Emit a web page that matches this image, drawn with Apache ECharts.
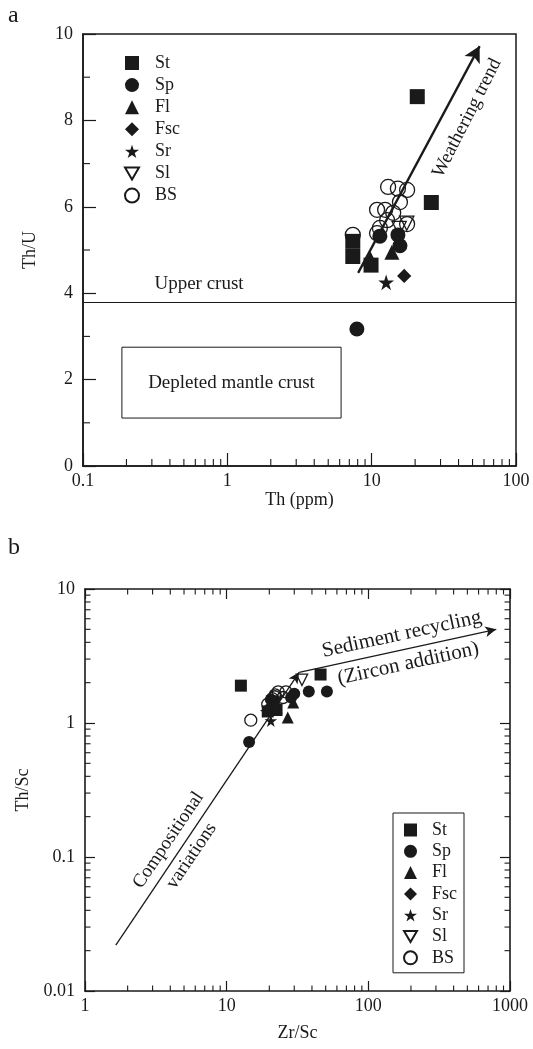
<!DOCTYPE html>
<html>
<head>
<meta charset="utf-8">
<script src="https://cdn.jsdelivr.net/npm/echarts@6/dist/echarts.min.js"></script>
<style>
  html, body { margin: 0; padding: 0; background: #fff; }
  #main { width: 533px; height: 1049px; }
</style>
</head>
<body>
<div id="main"></div>
<script>
var FONT = 'Liberation Serif';
var INK = '#1a1a1a';

var groups = ['St', 'Sp', 'Fl', 'Fsc', 'Sr', 'Sl', 'BS'];

// panel a : Th (ppm) vs Th/U
var aSt  = [[7.4, 5.2], [7.4, 4.85], [9.9, 4.65], [20.7, 8.55], [25.9, 6.1]];
var aSp  = [[7.9, 3.17], [11.4, 5.32], [15.7, 5.1], [15.2, 5.35]];
var aFl  = [[9.8, 4.8], [13.8, 4.95]];
var aFsc = [[16.8, 4.4]];
var aSr  = [[12.6, 4.25]];
var aSl  = [[17.5, 5.62], [15.5, 5.5]];
var aBS  = [[13.0, 6.46], [15.2, 6.42], [17.6, 6.39], [15.7, 6.11], [10.9, 5.93], [12.4, 5.93],
            [14.1, 5.86], [12.8, 5.69], [11.4, 5.51], [10.9, 5.39], [17.6, 5.6], [7.4, 5.35]];
var upperCrust = 3.8;
var depletedBox = [[0.186, 2.75], [6.14, 1.11]];
var weatheringTrend = [[8.06, 4.47], [56, 9.72]];

// panel b : Zr/Sc vs Th/Sc
var bSt  = [[12.6, 1.9], [46, 2.3], [19.5, 1.22], [22.5, 1.25], [21.5, 1.45]];
var bSp  = [[14.4, 0.72], [38, 1.72], [51, 1.72], [30, 1.65], [28.5, 1.55], [20.5, 1.5], [21.5, 1.35]];
var bFl  = [[27, 1.1], [29.5, 1.42], [22.5, 1.3]];
var bFsc = [[20, 1.32]];
var bSr  = [[20.5, 1.04], [19, 1.22]];
var bSl  = [[34, 2.1]];
var bBS  = [[14.8, 1.05], [19.5, 1.38], [21, 1.52], [22, 1.62], [23.1, 1.71], [26.2, 1.71], [21.9, 1.57], [25, 1.55]];
var compositionalLine = [[1.65, 0.022], [32.5, 2.39]];
var recyclingLine = [[32.5, 2.39], [800, 5.0]];

// tick positions
var minorFactors = [2, 3, 4, 5, 6, 7, 8, 9];
var aXDecades = [0.1, 1, 10];
var aYMinor = [1, 3, 5, 7, 9];
var bXDecades = [1, 10, 100];
var bYDecades = [0.01, 0.1, 1];

var STAR = 'path://M50,2 L61.8,38.2 L99.5,38.2 L69,60.5 L80.6,96.4 L50,74.3 L19.4,96.4 L31,60.5 L0.5,38.2 L38.2,38.2 Z';
var DOWN_TRI = 'path://M0,0 L20,0 L10,17.3 Z';

var looks = {
    St:  { symbol: 'rect', k: 1, open: false },
    Sp:  { symbol: 'circle', k: 1, open: false },
    Fl:  { symbol: 'triangle', k: 1, open: false },
    Fsc: { symbol: 'diamond', k: 0.95, open: false },
    Sr:  { symbol: STAR, k: 1.05, open: false },
    Sl:  { symbol: DOWN_TRI, k: 0.95, open: true },
    BS:  { symbol: 'circle', k: 1, open: true }
};

function minors(decades) {
    var out = [];
    decades.forEach(function (d) {
        minorFactors.forEach(function (f) { out.push(+(d * f).toPrecision(4)); });
    });
    return out;
}

function scatter(name, data, gi, size) {
    var l = looks[name];
    return {
        type: 'scatter', name: name, xAxisIndex: gi, yAxisIndex: gi,
        data: data, symbol: l.symbol, symbolSize: size * l.k,
        itemStyle: {
            color: l.open ? 'rgba(255,255,255,0)' : INK,
            borderColor: INK, borderWidth: l.open ? 1.3 : 0, opacity: 1
        },
        emphasis: { disabled: true }
    };
}

// minor ticks drawn through the axes' own scales
function tickSeries(gi, xTicks, yTicks, xr, yr, len, mirror) {
    var items = [];
    xTicks.forEach(function (v) {
        items.push([v, yr[0], 0, -1]);
        if (mirror) items.push([v, yr[1], 0, 1]);
    });
    yTicks.forEach(function (v) {
        items.push([xr[0], v, 1, 0]);
        if (mirror) items.push([xr[1], v, -1, 0]);
    });
    return {
        type: 'custom', xAxisIndex: gi, yAxisIndex: gi, silent: true, data: items, z: 5,
        renderItem: function (params, api) {
            var p = api.coord([api.value(0), api.value(1)]);
            var dx = api.value(2), dy = api.value(3);
            return {
                type: 'line',
                shape: { x1: p[0], y1: p[1], x2: p[0] + dx * len, y2: p[1] + dy * len },
                style: { stroke: INK, lineWidth: 1.1 }
            };
        }
    };
}

function numFmt(v) { return String(+(+v).toPrecision(6)); }

var labelStyle = { color: INK, fontFamily: FONT, fontSize: 18 };
var nameStyle = { color: INK, fontFamily: FONT, fontSize: 18 };
var lineStyle = { color: INK, width: 1.6 };

var chart = echarts.init(document.getElementById('main'));

var series = [];
var aData = { St: aSt, Sp: aSp, Fl: aFl, Fsc: aFsc, Sr: aSr, Sl: aSl, BS: aBS };
var bData = { St: bSt, Sp: bSp, Fl: bFl, Fsc: bFsc, Sr: bSr, Sl: bSl, BS: bBS };
groups.forEach(function (g) { series.push(scatter(g, aData[g], 0, 15)); });
groups.forEach(function (g) { series.push(scatter(g, bData[g], 1, 12)); });

// panel a annotations
series[0].markLine = {
    silent: true, symbol: ['none', 'none'], animation: false,
    label: { show: false },
    lineStyle: { color: INK, width: 1.1, type: 'solid' },
    data: [
        { yAxis: upperCrust },
        [{ coord: weatheringTrend[0], symbol: 'none', lineStyle: { width: 2.3 } },
         { coord: weatheringTrend[1], symbol: 'arrow', symbolSize: [13, 16] }]
    ]
};
series[0].markArea = {
    silent: true,
    itemStyle: { color: 'rgba(0,0,0,0)', borderColor: INK, borderWidth: 1 },
    label: { show: true, position: 'inside', color: INK, fontFamily: FONT, fontSize: 19 },
    data: [[{ name: 'Depleted mantle crust', coord: depletedBox[0] }, { coord: depletedBox[1] }]]
};
// panel b annotations
series[7].markLine = {
    silent: true, symbol: ['none', 'arrow'], symbolSize: [8, 11], animation: false,
    label: { show: false },
    lineStyle: { color: INK, width: 1.3, type: 'solid' },
    data: [
        [{ coord: compositionalLine[0] }, { coord: compositionalLine[1] }],
        [{ coord: recyclingLine[0] }, { coord: recyclingLine[1] }]
    ]
};

series.push(tickSeries(0, minors(aXDecades), aYMinor, [0.1, 100], [0, 10], 7, false));
series.push(tickSeries(1, minors(bXDecades), minors(bYDecades), [1, 1000], [0.01, 10], 5.5, true));

var option = {
    animation: false,
    backgroundColor: '#fff',
    textStyle: { fontFamily: FONT },
    grid: [
        { left: 83, top: 34, width: 433, height: 432, show: true, borderColor: INK, borderWidth: 1.5,
          backgroundColor: 'rgba(0,0,0,0)', outerBoundsMode: 'none' },
        { left: 85, top: 589, width: 425, height: 402, outerBoundsMode: 'none' }
    ],
    xAxis: [
        { gridIndex: 0, type: 'log', logBase: 10, min: 0.1, max: 100,
          name: 'Th (ppm)', nameLocation: 'middle', nameGap: 17, nameTextStyle: nameStyle,
          axisLine: { lineStyle: lineStyle },
          axisTick: { inside: true, length: 13, lineStyle: { color: INK, width: 1.2 } },
          axisLabel: Object.assign({ margin: 6, formatter: numFmt, showMinLabel: true, showMaxLabel: true }, labelStyle),
          splitLine: { show: false } },
        { gridIndex: 1, type: 'log', logBase: 10, min: 1, max: 1000,
          name: 'Zr/Sc', nameLocation: 'middle', nameGap: 33, nameTextStyle: nameStyle,
          axisLine: { lineStyle: lineStyle },
          axisTick: { inside: true, length: 10, lineStyle: { color: INK, width: 1.2 } },
          axisLabel: Object.assign({ margin: 6, formatter: numFmt, showMinLabel: true, showMaxLabel: true }, labelStyle),
          splitLine: { show: false } },
        { gridIndex: 1, type: 'log', logBase: 10, min: 1, max: 1000, position: 'top',
          axisLine: { lineStyle: lineStyle },
          axisTick: { inside: true, length: 10, lineStyle: { color: INK, width: 1.2 } },
          axisLabel: { show: false }, splitLine: { show: false } }
    ],
    yAxis: [
        { gridIndex: 0, type: 'value', min: 0, max: 10, interval: 2,
          name: 'Th/U', nameLocation: 'middle', nameGap: 44, nameRotate: 90, nameTextStyle: nameStyle,
          axisLine: { show: true, lineStyle: lineStyle },
          axisTick: { show: true, inside: true, length: 13, lineStyle: { color: INK, width: 1.2 } },
          axisLabel: Object.assign({ margin: 10, showMinLabel: true, showMaxLabel: true }, labelStyle),
          splitLine: { show: false } },
        { gridIndex: 1, type: 'log', logBase: 10, min: 0.01, max: 10,
          name: 'Th/Sc', nameLocation: 'middle', nameGap: 46, nameRotate: 90, nameTextStyle: nameStyle,
          axisLine: { show: true, lineStyle: lineStyle },
          axisTick: { show: true, inside: true, length: 10, lineStyle: { color: INK, width: 1.2 } },
          axisLabel: Object.assign({ margin: 10, formatter: numFmt, showMinLabel: true, showMaxLabel: true }, labelStyle),
          splitLine: { show: false } },
        { gridIndex: 1, type: 'log', logBase: 10, min: 0.01, max: 10, position: 'right',
          axisLine: { show: true, lineStyle: lineStyle },
          axisTick: { show: true, inside: true, length: 10, lineStyle: { color: INK, width: 1.2 } },
          axisLabel: { show: false }, splitLine: { show: false } }
    ],
    legend: [
        { data: groups, orient: 'vertical', left: 124, top: 53, padding: 0,
          itemWidth: 14, itemHeight: 14, itemGap: 2.1, selectedMode: false,
          textStyle: { color: INK, fontFamily: FONT, fontSize: 18, lineHeight: 20, padding: [0, 0, 0, 11] } },
        { data: groups, orient: 'vertical', left: 393, top: 813, padding: [7, 7, 5, 10],
          borderColor: INK, borderWidth: 1, backgroundColor: '#fff',
          itemWidth: 13, itemHeight: 13, itemGap: 1.3, selectedMode: false,
          textStyle: { color: INK, fontFamily: FONT, fontSize: 18, lineHeight: 20, padding: [0, 0, 0, 10] } }
    ],
    graphic: [
        { type: 'text', x: 8, y: 4, style: { text: 'a', fill: INK, font: '24px "Liberation Serif"' } },
        { type: 'text', x: 8, y: 536, style: { text: 'b', fill: INK, font: '24px "Liberation Serif"' } },
        { type: 'text', x: 199, y: 284, style: { text: 'Upper crust', fill: INK, font: '19px "Liberation Serif"',
          align: 'center', verticalAlign: 'middle' } },
        { type: 'text', x: 467, y: 118, rotation: 63 * Math.PI / 180,
          style: { text: 'Weathering trend', fill: INK, font: '19px "Liberation Serif"', align: 'center', verticalAlign: 'middle' } },
        { type: 'text', x: 405, y: 649, rotation: 12.3 * Math.PI / 180,
          style: { text: 'Sediment recycling\n(Zircon addition)', fill: INK, font: '21px "Liberation Serif"',
                   lineHeight: 30, align: 'center', verticalAlign: 'middle' } },
        { type: 'text', x: 180, y: 848, rotation: 56 * Math.PI / 180,
          style: { text: 'Compositional\nvariations', fill: INK, font: '19px "Liberation Serif"',
                   lineHeight: 28, align: 'center', verticalAlign: 'middle' } }
    ],
    series: series
};

chart.setOption(option);
</script>
</body>
</html>
